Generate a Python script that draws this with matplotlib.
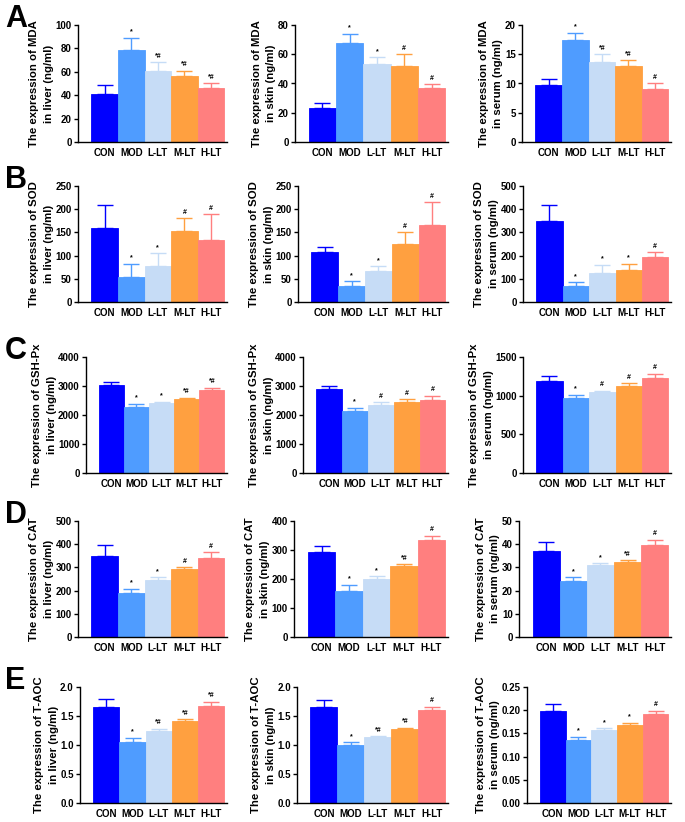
import matplotlib
matplotlib.use("Agg")
import matplotlib.pyplot as plt
import numpy as np
from matplotlib.ticker import FormatStrFormatter

plt.rcParams['font.family'] = ['Liberation Sans', 'DejaVu Sans']
plt.rcParams['font.weight'] = 'bold'

groups = ["CON", "MOD", "L-LT", "M-LT", "H-LT"]
colors = ["#0000FF", "#4F9CFF", "#C6DCF6", "#FFA040", "#FF7F7F"]
tissues = ["liver", "skin", "serum"]
markers = ["MDA", "SOD", "GSH-Px", "CAT", "T-AOC"]
letters = ["A", "B", "C", "D", "E"]

# means / sd per marker, per tissue (liver, skin, serum)
mda_mean = [[41, 79, 61, 56, 46], [23, 68, 53, 52, 37], [9.7, 17.4, 13.7, 13.0, 9.0]]
mda_sd = [[8, 10, 7, 5, 4], [4, 6, 5, 8, 2.5], [1.0, 1.3, 1.3, 1.0, 1.1]]
mda_sig = [["", "*", "*#", "*#", "*#"], ["", "*", "*", "#", "#"], ["", "*", "*#", "*#", "#"]]

sod_mean = [[160, 53, 78, 153, 133], [108, 35, 67, 126, 165], [350, 67, 125, 138, 195]]
sod_sd = [[50, 29, 27, 27, 57], [10, 10, 10, 25, 50], [67, 18, 35, 27, 20]]
sod_sig = [["", "*", "*", "#", "#"], ["", "*", "*", "#", "#"], ["", "*", "*", "*", "#"]]

gsh_mean = [[3030, 2280, 2430, 2550, 2850], [2900, 2130, 2350, 2460, 2530], [1190, 970, 1045, 1130, 1225]]
gsh_sd = [[100, 110, 30, 50, 90], [90, 120, 90, 80, 140], [60, 40, 20, 30, 60]]
gsh_sig = [["", "*", "*", "*#", "*#"], ["", "*", "#", "#", "#"], ["", "*", "#", "#", "#"]]

cat_mean = [[348, 190, 245, 293, 340], [292, 160, 200, 245, 335], [37, 24.2, 31, 32.2, 39.5]]
cat_sd = [[48, 18, 13, 8, 25], [23, 20, 10, 7, 15], [4, 1.6, 0.8, 0.8, 2.5]]
cat_sig = [["", "*", "*", "#", "#"], ["", "*", "*", "*#", "#"], ["", "*", "*", "*#", "#"]]

taoc_mean = [[1.65, 1.05, 1.25, 1.42, 1.68], [1.65, 1.00, 1.13, 1.27, 1.60], [0.198, 0.135, 0.157, 0.168, 0.192]]
taoc_sd = [[0.15, 0.07, 0.03, 0.03, 0.07], [0.13, 0.05, 0.02, 0.03, 0.06], [0.015, 0.008, 0.004, 0.005, 0.007]]
taoc_sig = [["", "*", "*#", "*#", "*#"], ["", "*", "*#", "*#", "#"], ["", "*", "*", "*", "#"]]

ymax = [[100, 80, 20], [250, 250, 500], [4000, 4000, 1500], [500, 400, 50], [2.0, 2.0, 0.25]]
ystep = [[20, 20, 5], [50, 50, 100], [1000, 1000, 500], [100, 100, 10], [0.5, 0.5, 0.05]]
yfmt = [["%d"] * 3, ["%d"] * 3, ["%d"] * 3, ["%d"] * 3, ["%.1f", "%.1f", "%.2f"]]

all_mean = [mda_mean, sod_mean, gsh_mean, cat_mean, taoc_mean]
all_sd = [mda_sd, sod_sd, gsh_sd, cat_sd, taoc_sd]
all_sig = [mda_sig, sod_sig, gsh_sig, cat_sig, taoc_sig]

W, H = 685, 822
fig = plt.figure(figsize=(W / 100, H / 100), dpi=100)

row_top = [25, 186, 357, 521, 687]
row_bot = [142, 302, 473, 637, 803]
row_left = [[78, 295, 522], [78, 298, 523], [86, 303, 523], [78, 294, 519], [80, 297, 527]]
col_right = [227, 448, 671]

for r in range(5):
    for c in range(3):
        l = row_left[r][c]
        rr = col_right[c]
        ax = fig.add_axes([l / W, 1 - row_bot[r] / H, (rr - l) / W, (row_bot[r] - row_top[r]) / H])
        x = np.arange(5)
        m = all_mean[r][c]
        s = all_sd[r][c]
        ax.bar(x, m, width=1.0, color=colors, edgecolor=colors, linewidth=0.6, zorder=2)
        for i in range(5):
            ax.errorbar(x[i], m[i], yerr=[[0], [s[i]]], fmt="none", ecolor=colors[i],
                        elinewidth=1.0, capsize=5.5, capthick=1.0, zorder=1)
            if all_sig[r][c][i]:
                ax.text(x[i], m[i] + s[i] + ymax[r][c] * 0.02, all_sig[r][c][i],
                        ha="center", va="bottom", fontsize=5, fontweight="bold")
        ax.set_xlim(-1.0, 4.6)
        ax.set_ylim(0, ymax[r][c])
        ax.set_yticks(np.arange(0, ymax[r][c] + ystep[r][c] * 0.5, ystep[r][c]))
        ax.yaxis.set_major_formatter(FormatStrFormatter(yfmt[r][c]))
        ax.set_xticks(x)
        ax.set_xticklabels(groups, fontsize=7, fontweight="bold")
        ax.tick_params(axis="x", length=0, pad=4)
        ax.tick_params(axis="y", labelsize=7, length=3, width=1, pad=1.5)
        for t in ax.get_yticklabels():
            t.set_fontweight("bold")
        ax.spines["top"].set_visible(False)
        ax.spines["right"].set_visible(False)
        ax.spines["left"].set_linewidth(1.0)
        ax.spines["bottom"].set_linewidth(1.0)
        ax.set_ylabel("The expression of %s\nin %s (ng/ml)" % (markers[r], tissues[c]),
                      fontsize=8.2, fontweight="bold", labelpad=1, linespacing=1.6)
    fig.text(5 / W, 1 - (row_top[r] + 2) / H, letters[r], fontsize=22, fontweight="bold",
             ha="left", va="baseline")

fig.savefig("out.png", dpi=100)
